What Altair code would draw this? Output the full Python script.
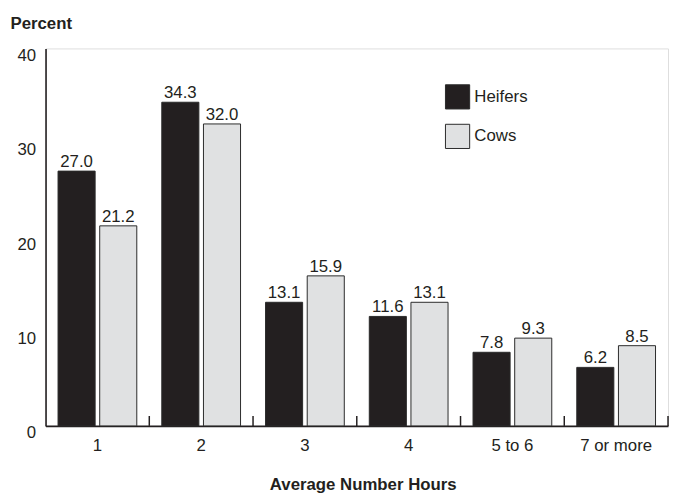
import altair as alt
import pandas as pd

categories = ["1", "2", "3", "4", "5 to 6", "7 or more"]
series = ["Heifers", "Cows"]
heifers = [27.0, 34.3, 13.1, 11.6, 7.8, 6.2]
cows = [21.2, 32.0, 15.9, 13.1, 9.3, 8.5]
y_ticks = [0, 10, 20, 30, 40]

rows = []
for c, h, w in zip(categories, heifers, cows):
    rows.append({"category": c, "series": "Heifers", "value": h})
    rows.append({"category": c, "series": "Cows", "value": w})
df = pd.DataFrame(rows)
cat_df = pd.DataFrame({"category": categories})

FONT = "Liberation Sans"
INK = "#231f20"

x_axis = alt.Axis(
    title="Average Number Hours",
    titleFont=FONT,
    titleFontSize=17,
    titleFontWeight="bold",
    titleColor=INK,
    titleX=321,
    titleY=64,
    titleAlign="center",
    titleBaseline="alphabetic",
    labelFont=FONT,
    labelFontSize=17,
    labelColor=INK,
    labelAngle=0,
    labelAlign="center",
    labelPadding=12,
    labelBaseline="top",
    ticks=False,
    tickSize=0,
    domainColor=INK,
    domainWidth=1.6,
    grid=False,
)

x_scale = alt.Scale(paddingInner=0, paddingOuter=0)

x_off = alt.XOffset(
    "series:N",
    sort=series,
    scale=alt.Scale(paddingInner=0.11, paddingOuter=0.3),
)

y_enc = alt.Y(
    "value:Q",
    scale=alt.Scale(domain=[0, 40], nice=False),
    axis=alt.Axis(
        values=y_ticks,
        title="Percent",
        titleFont=FONT,
        titleFontSize=17,
        titleFontWeight="bold",
        titleColor=INK,
        titleAngle=0,
        titleX=-36,
        titleY=-20,
        titleAlign="left",
        titleBaseline="alphabetic",
        labelFont=FONT,
        labelFontSize=17,
        labelColor=INK,
        labelPadding=10,
        labelBaseline="top",
        labelOffset=-1,
        ticks=False,
        tickSize=0,
        domainColor=INK,
        domainWidth=1.6,
        grid=False,
    ),
)

color_enc = alt.Color(
    "series:N",
    sort=series,
    scale=alt.Scale(domain=series, range=[INK, "#e0e1e2"]),
    legend=alt.Legend(
        title=None,
        orient="none",
        legendX=404,
        legendY=36,
        symbolType="square",
        symbolSize=600,
        symbolStrokeColor="#2a2a2a",
        symbolStrokeWidth=1,
        labelFont=FONT,
        labelFontSize=17,
        labelColor=INK,
        labelOffset=4,
        rowPadding=10,
        padding=0,
    ),
)

bars = alt.Chart(df).mark_bar(stroke="#2a2a2a", strokeWidth=1).encode(
    x=alt.X("category:N", sort=categories, scale=x_scale, axis=x_axis),
    xOffset=x_off,
    y=y_enc,
    color=color_enc,
)

labels = alt.Chart(df).mark_text(
    font=FONT, fontSize=17, color=INK, baseline="alphabetic", dy=-4
).encode(
    x=alt.X("category:N", sort=categories, scale=x_scale, axis=x_axis),
    xOffset=alt.XOffset("series:N", sort=series),
    y=alt.Y("value:Q"),
    text=alt.Text("value:Q", format=".1f"),
)

ticks = alt.Chart(cat_df).mark_rule(color=INK, strokeWidth=1.5).encode(
    x=alt.X("category:N", sort=categories, scale=x_scale, axis=x_axis, bandPosition=1),
    y=alt.value(382),
    y2=alt.value(372),
)

chart = (
    alt.layer(bars, labels, ticks)
    .properties(
        width=630,
        height=382,
        autosize=alt.AutoSizeParams(type="none"),
        padding={"left": 38, "top": 38, "right": 2, "bottom": 67},
    )
    .configure_view(stroke=None)
    .configure(background="white")
)

chart.save("out.html", embed_options={"renderer": "svg", "actions": False})
